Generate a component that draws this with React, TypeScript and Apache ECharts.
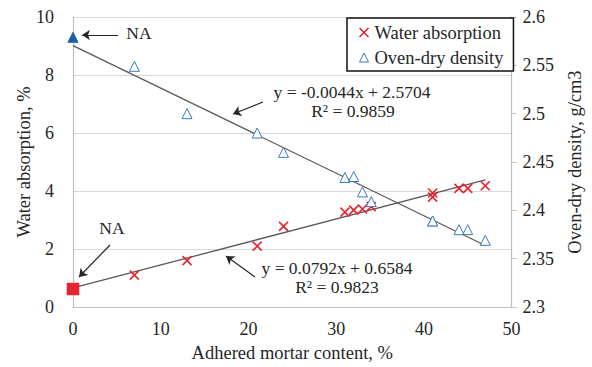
import React, { useEffect, useRef } from "react";
import * as echarts from "echarts";

// Adhered mortar content (%) of each aggregate sample
const mortarContent = [0, 7, 13, 21, 24, 31, 32, 33, 34, 41, 41, 44, 45, 47];
// Water absorption (%)
const waterAbsorption = [0.62, 1.1, 1.6, 2.1, 2.78, 3.27, 3.34, 3.38, 3.46, 3.79, 3.93, 4.09, 4.09, 4.18];
// Oven-dry density (g/cm3)
const ovenDryDensity = [2.579, 2.549, 2.5, 2.48, 2.46, 2.434, 2.435, 2.419, 2.409, 2.389, 2.389, 2.38, 2.38, 2.369];

// Linear fits: [slope, intercept]
const waterFit = [0.0792, 0.6584];
const densityFit = [-0.0044, 2.5704];
const fitRange = [0, 47];

const FONT = "'Liberation Serif', 'Times New Roman', serif";
const TEXT = "#262626";
const RED = "#e3262f";
const BLUE = "#3a7abf";
const CROSS = "path://M0,0L10,10M10,0L0,10";

export default function App() {
  const ref = useRef<HTMLDivElement>(null);

  useEffect(() => {
    document.body.style.margin = "0";
    if (!ref.current) return;
    const chart = echarts.init(ref.current, undefined, { renderer: "svg" });

    const waterData = mortarContent.map((x, i) =>
      i === 0
        ? { value: [x, waterAbsorption[i]], symbol: "rect", symbolSize: 11, itemStyle: { color: RED, borderColor: RED } }
        : { value: [x, waterAbsorption[i]] }
    );
    const densityData = mortarContent.map((x, i) =>
      i === 0
        ? { value: [x, ovenDryDensity[i]], itemStyle: { color: "#1f5fa8", borderColor: "#1f5fa8" } }
        : { value: [x, ovenDryDensity[i]] }
    );
    const fitLine = (f: number[]) => fitRange.map((x) => [x, f[0] * x + f[1]]);

    const arrow = (x1: number, y1: number, x2: number, y2: number) => [
      { x: x1, y: y1 },
      { x: x2, y: y2 },
    ];

    const label = (text: string, x: number, y: number, size = 17.5) => ({
      type: "text",
      x,
      y,
      silent: true,
      style: { text, fontFamily: FONT, fontSize: size, fill: TEXT, align: "center", verticalAlign: "middle" },
    });

    chart.setOption({
      animation: false,
      backgroundColor: "#fff",
      textStyle: { fontFamily: FONT },
      grid: { left: 73, right: 74, top: 17, bottom: 60, containLabel: false },
      legend: {
        orient: "vertical",
        left: 347,
        top: 18,
        padding: [5, 10, 4, 10],
        itemGap: 6,
        itemWidth: 9,
        itemHeight: 9,
        borderColor: "#111",
        borderWidth: 1.5,
        backgroundColor: "#fff",
        textStyle: { fontFamily: FONT, fontSize: 18.5, color: TEXT, padding: [0, 0, 0, 1] },
        data: [
          { name: "Water absorption", icon: CROSS, itemStyle: { color: "none", borderColor: RED, borderWidth: 1.6 } },
          { name: "Oven-dry density", icon: "triangle", itemStyle: { color: "#fff", borderColor: BLUE, borderWidth: 1 } },
        ],
      },
      xAxis: {
        type: "value",
        min: 0,
        max: 50,
        interval: 10,
        name: "Adhered mortar content, %",
        nameLocation: "middle",
        nameGap: 36,
        nameTextStyle: { fontFamily: FONT, fontSize: 18.5, color: TEXT },
        axisLine: { show: true, lineStyle: { color: "#bfbfbf", width: 1.2 } },
        axisTick: { show: false },
        splitLine: { show: false },
        axisLabel: { fontFamily: FONT, fontSize: 18, color: TEXT, margin: 13 },
      },
      yAxis: [
        {
          type: "value",
          min: 0,
          max: 10,
          interval: 2,
          name: "Water absorption, %",
          nameLocation: "middle",
          nameRotate: 90,
          nameGap: 40,
          nameMoveOverlap: false,
          nameTextStyle: { fontFamily: FONT, fontSize: 18.5, color: TEXT },
          axisLine: { show: true, lineStyle: { color: "#bfbfbf", width: 1.2 } },
          axisTick: { show: false },
          splitLine: { show: true, lineStyle: { color: "#d9d9d9", width: 1.2 } },
          axisLabel: { fontFamily: FONT, fontSize: 18, color: TEXT, margin: 19 },
        },
        {
          type: "value",
          min: 2.3,
          max: 2.6,
          interval: 0.05,
          name: "Oven-dry density, g/cm3",
          nameLocation: "middle",
          nameRotate: 90,
          nameGap: 44,
          nameTextStyle: { fontFamily: FONT, fontSize: 18.5, color: TEXT },
          axisLine: { show: true, lineStyle: { color: "#bfbfbf", width: 1.2 } },
          axisTick: { show: true, inside: false, length: 5, lineStyle: { color: "#bfbfbf" } },
          splitLine: { show: false },
          axisLabel: {
            fontFamily: FONT,
            fontSize: 18,
            color: TEXT,
            margin: 11,
            formatter: (v: number) => String(+v.toFixed(2)),
          },
        },
      ],
      series: [
        {
          name: "Density fit",
          type: "line",
          yAxisIndex: 1,
          data: fitLine(densityFit),
          symbol: "none",
          silent: true,
          lineStyle: { color: "#595959", width: 1.3 },
          markLine: {
            silent: true,
            symbol: ["none", "arrow"],
            symbolSize: 8,
            label: { show: false },
            lineStyle: { color: "#262626", width: 1.2, type: "solid" },
            data: [arrow(118, 35, 82, 35), arrow(263, 102, 233, 114)],
          },
        },
        {
          name: "Water fit",
          type: "line",
          yAxisIndex: 0,
          data: fitLine(waterFit),
          symbol: "none",
          silent: true,
          lineStyle: { color: "#595959", width: 1.3 },
          markLine: {
            silent: true,
            symbol: ["none", "arrow"],
            symbolSize: 8,
            label: { show: false },
            lineStyle: { color: "#262626", width: 1.2, type: "solid" },
            data: [arrow(110, 245, 79, 277), arrow(255, 277, 226, 256)],
          },
        },
        {
          name: "Water absorption",
          type: "scatter",
          yAxisIndex: 0,
          data: waterData,
          symbol: CROSS,
          symbolSize: 9,
          itemStyle: { color: "none", borderColor: RED, borderWidth: 1.6, opacity: 1 },
          z: 3,
        },
        {
          name: "Oven-dry density",
          type: "scatter",
          yAxisIndex: 1,
          data: densityData,
          symbol: "triangle",
          symbolSize: 10,
          itemStyle: { color: "#fff", borderColor: BLUE, borderWidth: 1, opacity: 1 },
          z: 3,
        },
      ],
      graphic: [
        label("NA", 139, 33),
        label("NA", 112, 228),
        label("y = -0.0044x + 2.5704", 352, 92),
        label("R² = 0.9859", 353, 111),
        label("y = 0.0792x + 0.6584", 337, 268),
        label("R² = 0.9823", 337, 287),
      ],
    });

    return () => chart.dispose();
  }, []);

  return <div ref={ref} style={{ width: 592, height: 367 }} />;
}
